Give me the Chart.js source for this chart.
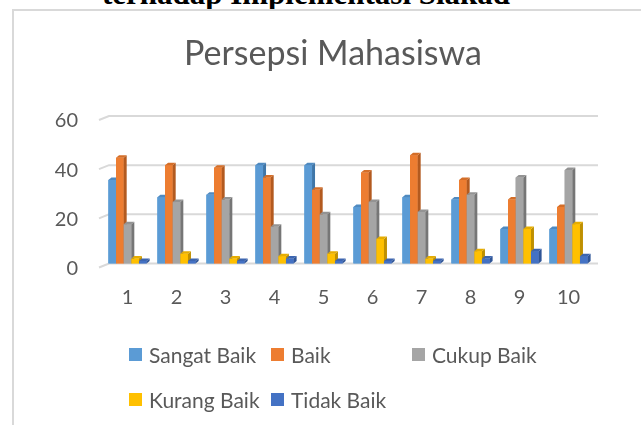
<!DOCTYPE html>
<html>
<head>
<meta charset="utf-8">
<script src="https://cdn.jsdelivr.net/npm/chart.js@4.4.1/dist/chart.umd.min.js"></script>
<style>
  html, body { margin: 0; padding: 0; background: #fff; }
  body { width: 641px; height: 425px; position: relative; overflow: hidden; font-family: Lato, sans-serif; }
  #judul { position: absolute; left: 0; width: 612px; top: -22px; text-align: center; white-space: nowrap;
           font: bold 31px/31px "Liberation Serif", "Times New Roman", serif; color: #000; }
  #bingkai { position: absolute; left: 12px; top: 9px; width: 640px; height: 430px;
             border-left: 2px solid #d9d9d9; border-top: 2px solid #d9d9d9; }
  #grafik { position: absolute; left: 0; top: 0; }
  #judulGrafik { position: absolute; left: 133px; width: 400px; top: 35px; text-align: center; white-space: nowrap;
                 font-size: 34px; line-height: 34px; color: #595959; }
  #legenda { position: absolute; left: 129px; top: 342px; display: grid;
             grid-template-columns: 142px 141px auto; grid-auto-rows: 45px;
             color: #595959; font-size: 21px; }
  .item { display: flex; align-items: center; height: 25px; white-space: nowrap; }
  .kotak { width: 13px; height: 13px; margin-right: 7px; }
</style>
</head>
<body>
<div id="judul">terhadap Implementasi Siakad</div>
<div id="bingkai"></div>
<canvas id="grafik" width="641" height="425"></canvas>
<div id="judulGrafik">Persepsi Mahasiswa</div>
<div id="legenda"></div>
<script>
// data
const kategori = ['1', '2', '3', '4', '5', '6', '7', '8', '9', '10'];
const namaSeri = ['Sangat Baik', 'Baik', 'Cukup Baik', 'Kurang Baik', 'Tidak Baik'];
const sangatBaik = [34, 27, 28, 40, 40, 23, 27, 26, 14, 14];
const baik       = [43, 40, 39, 35, 30, 37, 44, 34, 26, 23];
const cukupBaik  = [16, 25, 26, 15, 20, 25, 21, 28, 35, 38];
const kurangBaik = [2, 4, 2, 3, 4, 10, 2, 5, 14, 16];
const tidakBaik  = [1, 1, 1, 2, 1, 1, 1, 2, 5, 3];
const nilaiY = [0, 20, 40, 60];

const warna     = ['#5B9BD5', '#ED7D31', '#A5A5A5', '#FFC000', '#4472C4'];
const warnaSisi = ['#3F76A8', '#B35A1F', '#767676', '#BF9000', '#2F5597'];
const warnaAtas = ['#4F8AC0', '#D46E28', '#939393', '#E6AD00', '#3C65B0'];

const semuaSeri = [sangatBaik, baik, cukupBaik, kurangBaik, tidakBaik];

// efek 3D ala Excel: garis grid miring + sisi dan atap batang
const efek3D = {
  id: 'efek3D',
  beforeDatasetsDraw(chart) {
    const ctx = chart.ctx;
    const sy = chart.scales.y;
    const area = chart.chartArea;
    ctx.save();
    ctx.strokeStyle = '#d9d9d9';
    ctx.lineWidth = 2;
    sy.ticks.forEach(t => {
      const py = sy.getPixelForValue(t.value);
      ctx.beginPath();
      ctx.moveTo(area.left - 4, py + 4);
      ctx.lineTo(area.left + 6, py);
      ctx.lineTo(area.right + 5, py);
      ctx.stroke();
    });
    ctx.restore();
  },
  afterDatasetsDraw(chart) {
    const ctx = chart.ctx;
    const dx = 3, dy = 2.5;
    ctx.save();
    for (let j = 0; j < kategori.length; j++) {
      chart.data.datasets.forEach((ds, i) => {
        const bar = chart.getDatasetMeta(i).data[j];
        const { x, y, base, width } = bar.getProps(['x', 'y', 'base', 'width'], true);
        const l = x - width / 2, r = x + width / 2;
        ctx.fillStyle = warna[i];
        ctx.fillRect(l, y, width, base - y);
        ctx.fillStyle = warnaSisi[i];
        ctx.beginPath();
        ctx.moveTo(r, y); ctx.lineTo(r + dx, y - dy); ctx.lineTo(r + dx, base - dy); ctx.lineTo(r, base);
        ctx.closePath(); ctx.fill();
        ctx.fillStyle = warnaAtas[i];
        ctx.beginPath();
        ctx.moveTo(l, y); ctx.lineTo(l + dx, y - dy); ctx.lineTo(r + dx, y - dy); ctx.lineTo(r, y);
        ctx.closePath(); ctx.fill();
      });
    }
    ctx.restore();
  }
};

const ctx = document.getElementById('grafik').getContext('2d');

const grafik = new Chart(ctx, {
  type: 'bar',
  data: {
    labels: kategori,
    datasets: namaSeri.map((nama, i) => ({
      label: nama,
      data: semuaSeri[i],
      backgroundColor: warna[i],
      borderWidth: 0,
      categoryPercentage: 0.78,
      barPercentage: 1
    }))
  },
  options: {
    responsive: false,
    animation: false,
    devicePixelRatio: 1,
    layout: { padding: { left: 0, right: 48, top: 116, bottom: 116.5 } },
    plugins: {
      legend: { display: false },
      tooltip: { enabled: false },
      title: { display: false }
    },
    scales: {
      x: {
        grid: { display: false, drawTicks: false },
        border: { display: false },
        ticks: { color: '#595959', font: { family: 'Lato', size: 20 }, padding: 22 },
        afterFit(s) { s.height = 45; }
      },
      y: {
        min: 0,
        max: 60,
        afterBuildTicks(s) { s.ticks = nilaiY.map(v => ({ value: v })); },
        grid: { display: false, drawTicks: false },
        border: { display: false },
        ticks: { color: '#595959', font: { family: 'Lato', size: 20 }, padding: 25, labelOffset: 5 },
        afterFit(s) { s.width = 103; }
      }
    }
  },
  plugins: [efek3D]
});

// legenda HTML dengan susunan kolom seperti Excel
const legenda = document.getElementById('legenda');
grafik.data.datasets.forEach((ds, i) => {
  const item = document.createElement('div');
  item.className = 'item';
  item.innerHTML = `<span class="kotak" style="background:${ds.backgroundColor}"></span>${ds.label}`;
  legenda.appendChild(item);
});
</script>
</body>
</html>
